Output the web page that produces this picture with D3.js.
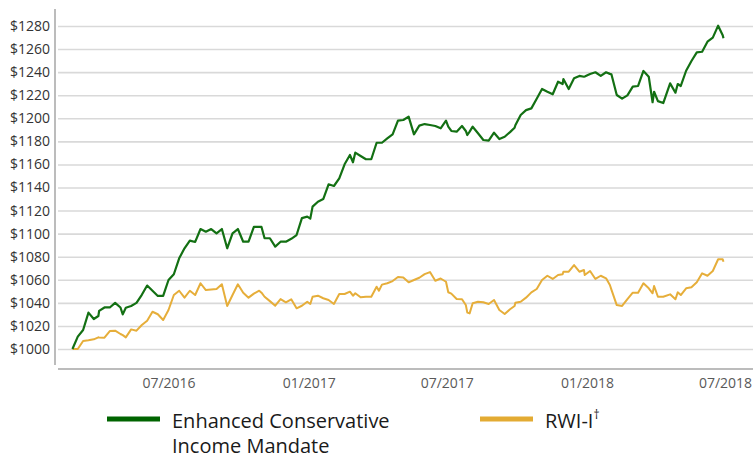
<!DOCTYPE html>
<html>
<head>
<meta charset="utf-8">
<script src="https://cdn.jsdelivr.net/npm/d3@7"></script>
<style>
  body { margin: 0; background: #fff; }
  svg { display: block; font-family: "Open Sans", "Liberation Sans", sans-serif; }
</style>
</head>
<body>
<div id="chart"></div>
<script>
// Data

var dates = [
  "2016-02-26","2016-03-04","2016-03-11","2016-03-18","2016-03-25","2016-03-31","2016-04-01","2016-04-08",
  "2016-04-15","2016-04-22","2016-04-29","2016-05-02","2016-05-06","2016-05-13","2016-05-20","2016-05-27",
  "2016-06-03","2016-06-10","2016-06-17","2016-06-24","2016-07-01","2016-07-08","2016-07-15","2016-07-22",
  "2016-07-29","2016-08-05","2016-08-12","2016-08-19","2016-08-26","2016-09-02","2016-09-09","2016-09-16",
  "2016-09-23","2016-09-30","2016-10-07","2016-10-14","2016-10-21","2016-10-28","2016-10-31","2016-11-04",
  "2016-11-11","2016-11-18","2016-11-25","2016-12-02","2016-12-09","2016-12-16","2016-12-23","2016-12-30",
  "2017-01-03","2017-01-06","2017-01-13","2017-01-20","2017-01-27","2017-02-03","2017-02-10","2017-02-17",
  "2017-02-24","2017-02-28","2017-03-03","2017-03-10","2017-03-17","2017-03-24","2017-03-31","2017-04-03",
  "2017-04-07","2017-04-14","2017-04-21","2017-04-28","2017-05-05","2017-05-12","2017-05-19","2017-05-26",
  "2017-06-02","2017-06-09","2017-06-16","2017-06-23","2017-06-30","2017-07-03","2017-07-07","2017-07-14",
  "2017-07-21","2017-07-26","2017-07-28","2017-07-31","2017-08-04","2017-08-11","2017-08-18","2017-08-25",
  "2017-09-01","2017-09-08","2017-09-15","2017-09-22","2017-09-28","2017-09-29","2017-10-06","2017-10-13",
  "2017-10-20","2017-10-27","2017-11-03","2017-11-10","2017-11-17","2017-11-24","2017-11-30","2017-12-01",
  "2017-12-08","2017-12-15","2017-12-22","2017-12-28","2017-12-29","2018-01-05","2018-01-12","2018-01-19",
  "2018-01-26","2018-01-31","2018-02-02","2018-02-09","2018-02-16","2018-02-23","2018-03-02","2018-03-09",
  "2018-03-16","2018-03-23","2018-03-28","2018-03-30","2018-04-04","2018-04-11","2018-04-20","2018-04-27",
  "2018-04-30","2018-05-04","2018-05-11","2018-05-18","2018-05-25","2018-06-01","2018-06-08","2018-06-15",
  "2018-06-22","2018-06-28","2018-06-29"
];

// Enhanced Conservative Income Mandate
var ecim = [
  1000, 1010.7, 1016.5, 1031.5, 1026, 1028.6, 1033, 1036,
  1036, 1040, 1036, 1030, 1035.8, 1037.3, 1040, 1047,
  1055, 1050.5, 1046, 1046, 1059.8, 1064.8, 1078.6, 1087.3,
  1094, 1092.8, 1104, 1101.7, 1104, 1100.3, 1104, 1087.3,
  1100.3, 1104, 1093, 1093, 1105.8, 1105.8, 1105.8, 1096,
  1096, 1088.7, 1093, 1093, 1095.5, 1098.8, 1113.5, 1114.7,
  1113, 1123.4, 1127.7, 1130, 1142.8, 1141.3, 1148, 1160.1,
  1168.2, 1161.9, 1170.2, 1167.3, 1164.5, 1164.5, 1178.8, 1178.8,
  1178.8, 1182.5, 1186.1, 1197.9, 1198.5, 1201.4, 1186.1, 1193.6,
  1195, 1194.2, 1193.3, 1191.3, 1197.9, 1192.7, 1189, 1188.4,
  1193.3, 1189, 1185.5, 1188.5, 1192.7, 1187, 1181.2, 1180.6,
  1187.5, 1182, 1184, 1188, 1191.8, 1194, 1202.8, 1207.1,
  1208.6, 1217, 1225.4, 1223, 1220.8, 1231.7, 1229.7, 1234,
  1225.4, 1234.7, 1236.7, 1236, 1236.2, 1238.4, 1239.9, 1236.7,
  1239.9, 1238.5, 1238.1, 1220.2, 1217, 1219.9, 1227.4, 1228,
  1241, 1236, 1213.9, 1223, 1214.9, 1213.2, 1230.3, 1222.2,
  1229.7, 1228, 1241.2, 1249.7, 1257.2, 1257.7, 1266.4, 1269.9,
  1280.3, 1272, 1269.3
];

// RWI-I
var rwi = [
  1000, 1000, 1006.9, 1007.5, 1008.4, 1010.1, 1010, 1009.8,
  1015.6, 1015.9, 1013, 1012, 1010.1, 1017, 1015.9, 1020.8,
  1024.5, 1032.3, 1030.1, 1025.1, 1033.8, 1046.8, 1050.5, 1044.5,
  1050.5, 1046.8, 1057, 1051.1, 1051.5, 1052, 1056.1, 1037.3,
  1046.8, 1056.1, 1048.8, 1044.5, 1048, 1050.5, 1048.8, 1045.3,
  1041.5, 1037.5, 1043.3, 1040.5, 1043.1, 1035.3, 1037.5, 1041,
  1039, 1045.3, 1046.2, 1044, 1042.5, 1039, 1047.7, 1047.7,
  1049.7, 1046.2, 1048.3, 1044.8, 1045.3, 1045.3, 1054, 1050.5,
  1055.8, 1057, 1058.9, 1062.4, 1062, 1057.8, 1059.8, 1061.8,
  1064.9, 1066.7, 1059.2, 1061.1, 1058.3, 1049.2, 1048, 1043.3,
  1043.1, 1038.1, 1031.5, 1030.9, 1039.6, 1041, 1040.5, 1039,
  1042.5, 1033.8, 1030.3, 1034.4, 1037.3, 1040.1, 1041, 1044.5,
  1049.1, 1052, 1059.8, 1063.5, 1060.7, 1064.1, 1064.8, 1067,
  1067, 1072.8, 1067, 1068.5, 1064.1, 1067.6, 1060.7, 1063.5,
  1061.3, 1055.5, 1051.5, 1038.1, 1037.3, 1043.3, 1048.8, 1048.8,
  1057, 1052.6, 1048.3, 1054.6, 1045.3, 1045.3, 1047.4, 1043.1,
  1049.1, 1046.8, 1052.6, 1053.5, 1057.8, 1065.6, 1063.5, 1067.6,
  1077.8, 1077.8, 1075.7
];

var yTicks = [1000, 1020, 1040, 1060, 1080, 1100, 1120, 1140, 1160, 1180, 1200, 1220, 1240, 1260, 1280];
var xTicks = ["2016-07-01", "2017-01-01", "2017-07-01", "2018-01-01", "2018-07-01"];

var seriesNames = [["Enhanced Conservative", "Income Mandate"], ["RWI-I"]];
var seriesColors = ["#137013", "#e6ae3a"];
var legendColors = ["#006400", "#e3ab33"];

// Paramètres graphiques

var width = 753,
    height = 459;

var parse = d3.timeParse("%Y-%m-%d");

var svg = d3.select("#chart").append("svg")
    .attr("width", width)
    .attr("height", height);

svg.append("rect")
    .attr("width", width)
    .attr("height", height)
    .attr("fill", "#fff");

// Échelles

var x = d3.scaleTime()
    .domain([parse("2016-07-01"), parse("2018-07-01")])
    .range([168.5, 725]);

var y = d3.scaleLinear()
    .domain([1000, 1280])
    .range([349, 26]);

// Grille

var grid = svg.append("g")
    .attr("transform", "translate(58,0)")
    .call(d3.axisRight(y).tickValues(yTicks).tickSize(width - 58).tickFormat(""));
grid.select(".domain").remove();
grid.selectAll("line")
    .attr("stroke", "#d9d9d9")
    .attr("stroke-width", 1.6);

// Axes

var yAxis = svg.append("g")
    .attr("transform", "translate(55,0)")
    .call(d3.axisLeft(y).tickValues(yTicks).tickSize(0).tickPadding(5).tickFormat(d => "$" + d));
yAxis.select(".domain").remove();
yAxis.selectAll("text")
    .attr("fill", "#333")
    .attr("font-size", 14)
    .attr("font-family", "'Open Sans', sans-serif");

svg.append("line")
    .attr("x1", 55).attr("x2", 55)
    .attr("y1", y(1280) - 17).attr("y2", y(1000) + 16)
    .attr("stroke", "#a6a6a6")
    .attr("stroke-width", 1.5);

var xAxis = svg.append("g")
    .attr("transform", "translate(0,369)")
    .call(d3.axisBottom(x).tickValues(xTicks.map(parse)).tickSize(0).tickPadding(9)
      .tickFormat(d3.timeFormat("%m/%Y")));
xAxis.select(".domain").remove();
xAxis.selectAll("text")
    .attr("fill", "#595959")
    .attr("font-size", 14)
    .attr("font-family", "'Open Sans', sans-serif");

svg.append("line")
    .attr("x1", 58).attr("x2", width)
    .attr("y1", 369).attr("y2", 369)
    .attr("stroke", "#a6a6a6")
    .attr("stroke-width", 1.5);

// Courbes

var rows = dates.map((d, i) => ({date: parse(d), values: [ecim[i], rwi[i]]}));

var line = k => d3.line()
    .x(d => x(d.date))
    .y(d => y(d.values[k]));

[1, 0].forEach(k => {
  svg.append("path")
      .datum(rows)
      .attr("fill", "none")
      .attr("stroke", seriesColors[k])
      .attr("stroke-width", k === 0 ? 2.2 : 2)
      .attr("stroke-linejoin", "round")
      .attr("d", line(k));
});

// Légende

var legendX = [107, 480];

seriesNames.forEach((lines, k) => {
  var g = svg.append("g").attr("transform", "translate(" + legendX[k] + ",419)");
  g.append("line")
      .attr("x1", 0).attr("x2", 53)
      .attr("stroke", legendColors[k])
      .attr("stroke-width", 5);
  var t = g.append("text")
      .attr("x", 65)
      .attr("y", 9)
      .attr("font-size", 20)
      .attr("fill", "#1a1a1a");
  lines.forEach((s, j) => {
    t.append("tspan")
        .attr("x", 65)
        .attr("dy", j === 0 ? 0 : 25)
        .text(s);
  });
  if (k === 1) {
    t.append("tspan")
        .attr("dy", -9)
        .attr("font-size", 12)
        .text("†");
  }
});
</script>
</body>
</html>
